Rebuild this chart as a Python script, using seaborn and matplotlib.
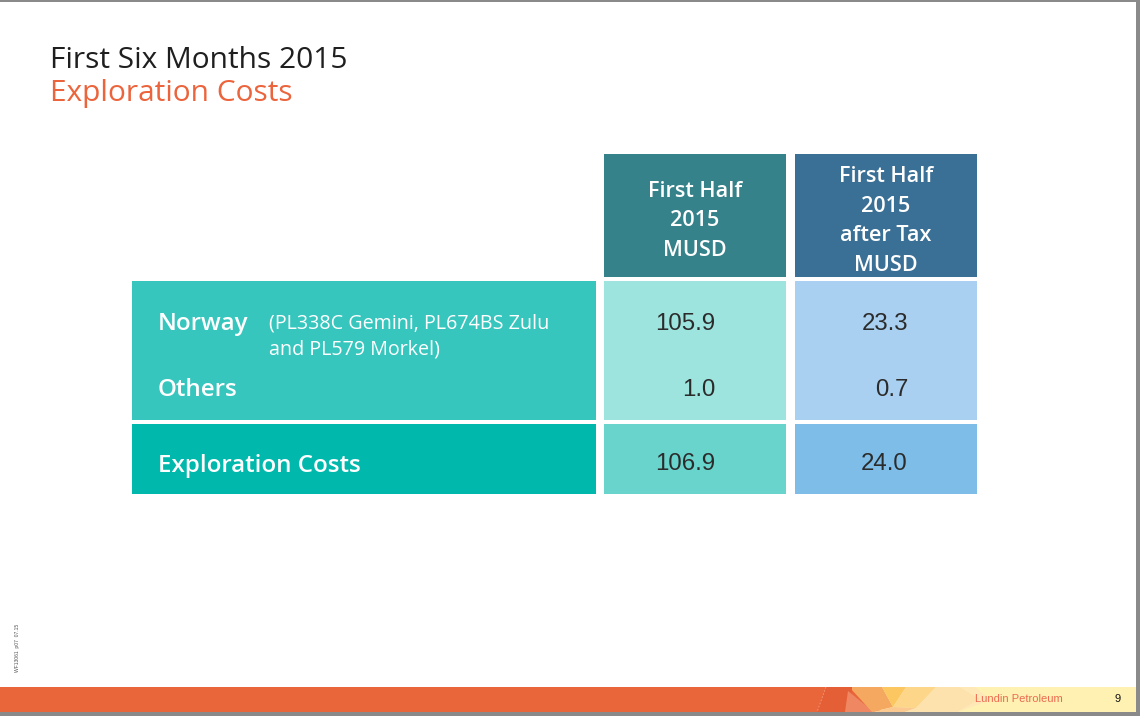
import matplotlib
matplotlib.use("Agg")
import matplotlib.pyplot as plt
from matplotlib.patches import Rectangle, Polygon
import seaborn as sns

# ---- data ----
title = "First Six Months 2015"
subtitle = "Exploration Costs"
categories = ["Norway", "Others", "Exploration Costs"]
norway_note = ["(PL338C Gemini, PL674BS Zulu", "and PL579 Morkel)"]
col_headers = [["First Half", "2015", "MUSD"],
               ["First Half", "2015", "after Tax", "MUSD"]]
first_half = ["105.9", "1.0", "106.9"]
after_tax = ["23.3", "0.7", "24.0"]
footer_company = "Lundin Petroleum"
page_number = "9"
side_code = "WF13061  p07  07.15"

sns.set_theme(style="white")
MAIN = ["Open Sans", "DejaVu Sans"]
NUM = ["Liberation Sans", "DejaVu Sans"]

W, H = 1140, 716
fig = plt.figure(figsize=(W / 100, H / 100), dpi=100)
ax = fig.add_axes([0, 0, 1, 1])
ax.set_xlim(0, W)
ax.set_ylim(H, 0)
ax.axis("off")
renderer = fig.canvas.get_renderer()


def fit_size(s, family, weight, target_px, base=20):
    t = ax.text(0, 0, s, fontsize=base, family=family, weight=weight)
    w = t.get_window_extent(renderer).width
    t.remove()
    return base * target_px / w


def rect(x0, y0, x1, y1, color, z=1):
    ax.add_patch(Rectangle((x0, y0), x1 - x0, y1 - y0, facecolor=color,
                           edgecolor="none", zorder=z))

# titles
ts = fit_size(title, MAIN, "normal", 297)
ax.text(50, 60, title, fontsize=ts, color="#1f1f1f", family=MAIN,
        va="center", ha="left")
ax.text(50, 94, subtitle, fontsize=ts, color="#ec643c", family=MAIN,
        va="center", ha="left")

# column geometry
cols = [(604, 786), (795, 977)]
head_colors = ["#35828a", "#3b7096"]
val_colors = ["#9de4df", "#a9d0f0"]
tot_colors = ["#69d4cc", "#7dbde7"]
head_y = (154, 277)
block_y = (281, 420)
tot_y = (424, 494)
label_x = (132, 596)

# header cells
hs = fit_size("First Half", MAIN, "semibold", 94)
for (x0, x1), c, lines in zip(cols, head_colors, col_headers):
    rect(x0, head_y[0], x1, head_y[1], c)
    n = len(lines)
    cy = (head_y[0] + head_y[1]) / 2 + 5.5
    for i, ln in enumerate(lines):
        y = cy + (i - (n - 1) / 2) * 29.7
        ax.text((x0 + x1) / 2, y, ln, fontsize=hs, color="white",
                family=MAIN, weight="semibold", ha="center", va="center", zorder=3)

# label cells
rect(label_x[0], block_y[0], label_x[1], block_y[1], "#36c6bd")
rect(label_x[0], tot_y[0], label_x[1], tot_y[1], "#00b8ac")
row_y = [322, 388, 463]
ls_ = fit_size("Exploration Costs", MAIN, "semibold", 202)
for cat, y in zip(categories, row_y):
    ax.text(158, y + 2.5, cat, fontsize=ls_, color="white", family=MAIN,
            weight="semibold", ha="left", va="center", zorder=3)
ns = fit_size(norway_note[0], MAIN, "normal", 281)
for i, ln in enumerate(norway_note):
    ax.text(269, 324 + i * 25, ln, fontsize=ns, color="white", family=MAIN,
            ha="left", va="center", zorder=3)

# value cells
vs = fit_size("105.9", NUM, "normal", 60)
right_edges = [715, 908]
for ci, ((x0, x1), vc, tc, vals) in enumerate(zip(cols, val_colors, tot_colors,
                                                   [first_half, after_tax])):
    rect(x0, block_y[0], x1, block_y[1], vc)
    rect(x0, tot_y[0], x1, tot_y[1], tc)
    for v, y in zip(vals, row_y):
        ax.text(right_edges[ci], y + 1.5, v, fontsize=vs, color="#2b2b2b",
                family=NUM, ha="right", va="center", zorder=3)

# footer band
rect(0, 687, 1136, 712, "#e9663b", z=1)
rect(880, 687, 1136, 712, "#fef1b2", z=1)
polys = [
    ([(826, 687), (852, 687), (850, 712), (817, 712)], "#e55f36"),
    ([(848, 691), (874, 712), (845, 712)], "#ef8762"),
    ([(852, 687), (882, 687), (893, 707), (872, 712), (852, 690)], "#f4a860"),
    ([(882, 687), (906, 687), (893, 707)], "#fcc660"),
    ([(906, 687), (936, 687), (916, 708), (893, 707)], "#fdd68a"),
    ([(872, 712), (893, 707), (916, 708), (905, 712)], "#fbc890"),
    ([(936, 687), (960, 687), (980, 699), (958, 712), (905, 712), (916, 708)], "#fee2ae"),
    ([(960, 687), (975, 687), (990, 700), (958, 712), (980, 699)], "#fee8b8"),
]
for pts, c in polys:
    ax.add_patch(Polygon(pts, closed=True, facecolor=c, edgecolor="none", zorder=2))
ax.plot([826, 817], [687, 712], color="#f39a7c", lw=0.6, ls=(0, (2, 2)), zorder=2)
fs = fit_size(footer_company, NUM, "normal", 87)
ax.text(975, 699, footer_company, fontsize=fs, color="#ee6a50", family=NUM,
        ha="left", va="center", zorder=3)
ax.text(1118, 699, page_number, fontsize=fs, color="#111111", family=NUM,
        ha="center", va="center", zorder=3)

# side code
ax.text(18, 648, side_code, fontsize=3.6, color="#555555", family=NUM,
        rotation=90, ha="center", va="center")

# border
rect(0, 0, W, 1.5, "#8a8a8a", z=4)
rect(1136, 0, W, H, "#8a8a8a", z=4)
rect(0, 712, W, H, "#8a8a8a", z=4)

fig.savefig("out.png", dpi=100)
